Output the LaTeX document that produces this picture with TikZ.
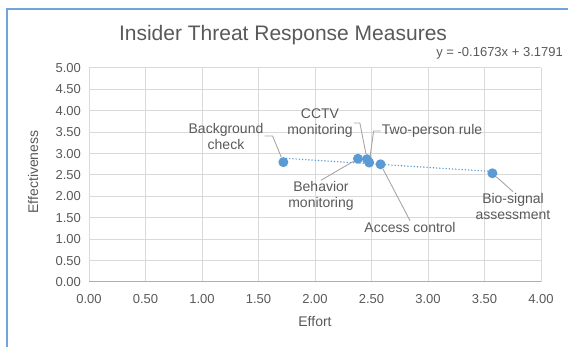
\documentclass[tikz,border=0pt]{standalone}
\usepackage{fontspec}
\setmainfont{Liberation Sans}

\definecolor{xlblue}{RGB}{91,155,213}
\definecolor{xlframe}{RGB}{111,165,220}
\definecolor{xlgrid}{RGB}{217,217,217}
\definecolor{xltext}{RGB}{89,89,89}
\definecolor{xlleader}{RGB}{166,166,166}

\begin{document}
\begin{tikzpicture}[x=1pt, y=-1pt,
    txt/.style={text=xltext, inner sep=1pt, align=center,
                font=\fontsize{14}{16}\selectfont},
    tick/.style={text=xltext, inner sep=0pt, font=\fontsize{13}{15}\selectfont},
    datapt/.style={circle, fill=xlblue, minimum size=10pt, inner sep=0pt},
    leader/.style={draw=xlleader, line width=0.9pt}]
  \pgfkeys{/pgf/number format/.cd, fixed, fixed zerofill, precision=2,
           assume math mode=true}
  \useasboundingbox (0,0) rectangle (568,347);
  \draw[xlframe, line width=2pt] (7,347) -- (7,9) -- (568,9);

  % plot area, in data units
  \begin{scope}[shift={(89,282)}, x=113pt, y=42.8pt]
    \foreach \i [count=\k] in {0,0.5,...,4} {
      \draw[xlgrid, line width=1pt] (\i,0) -- (\i,5);
      \node[tick] (xtick\k) at (\i,-0.4) {\pgfmathprintnumber{\i}};
    }
    \foreach \j [count=\k] in {0,0.5,...,5} {
      \draw[xlgrid, line width=1pt] (0,\j) -- (4,\j);
      \node[tick, anchor=east] (ytick\k) at (-0.07,\j) {\pgfmathprintnumber{\j}};
    }
    \draw[xlgrid!80!black, line width=1pt] (0,0) -- (4,0);

    % trendline
    \coordinate (fitA) at (1.72,{-0.1673*1.72+3.1791});
    \coordinate (fitB) at (3.57,{-0.1673*3.57+3.1791});
    \draw[xlblue, line width=1.6pt, line cap=round, dash pattern=on 0pt off 3.2pt]
      (fitA) -- (fitB);

    \node[datapt] (bg)   at (1.72,2.80) {};
    \node[datapt] (beh)  at (2.38,2.88) {};
    \node[datapt] (cctv) at (2.46,2.87) {};
    \node[datapt] (two)  at (2.48,2.79) {};
    \node[datapt] (acc)  at (2.58,2.75) {};
    \node[datapt] (bio)  at (3.57,2.54) {};
  \end{scope}

  \node[text=xltext, font=\fontsize{21}{24}\selectfont] (title) at (283,35)
    {Insider Threat Response Measures};
  \node[tick, anchor=east] (eqn) at (563,53) {y = -0.1673x + 3.1791};
  \node[txt] (xtitle) at (315,322) {Effort};
  \node[txt, rotate=90] (ytitle) at (33,172) {Effectiveness};

  % data labels
  \node[txt] (bgLabel)   at (226,136) {Background\\check};
  \node[txt] (cctvLabel) at (320,123) {CCTV\\monitoring};
  \node[txt] (twoLabel)  at (432,131) {Two-person rule};
  \node[txt] (behLabel)  at (321,196) {Behavior\\monitoring};
  \node[txt] (accLabel)  at (410,227) {Access control};
  \node[txt] (bioLabel)  at (513,206) {Bio-signal\\assessment};

  \draw[leader] (bgLabel.east) -- ++(8,0) -- (bg);
  \draw[leader] (cctvLabel.east) -- ++(6,0) -- (cctv);
  \draw[leader] (twoLabel.west) -- ++(-7,0) -- (two);
  \draw[leader] (behLabel.north) -- (beh);
  \draw[leader] (accLabel.north) -- (acc);
  \draw[leader] (bioLabel.north) -- (bio);
\end{tikzpicture}
\end{document}
